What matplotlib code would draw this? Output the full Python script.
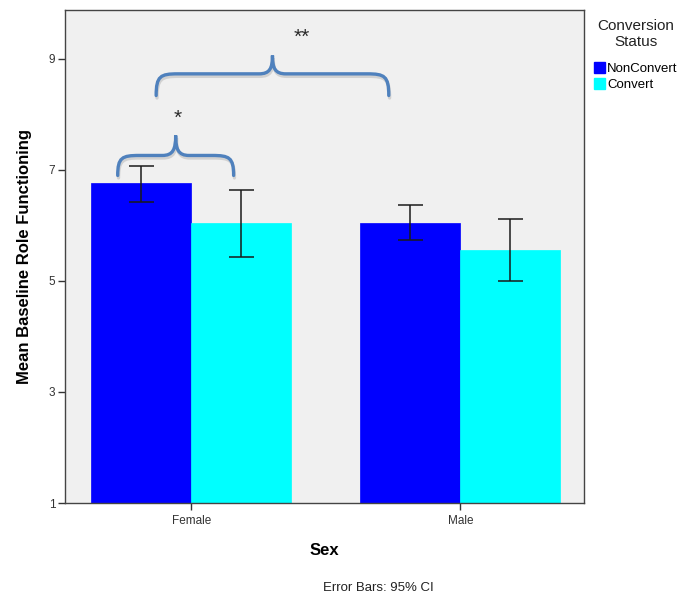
import matplotlib
matplotlib.use("Agg")
import matplotlib.pyplot as plt
import matplotlib.patheffects as pe
from matplotlib.path import Path
from matplotlib.patches import PathPatch, Patch
import numpy as np

# ---- data ----
sexes = ["Female", "Male"]
groups = ["NonConvert", "Convert"]
colors = ["#0000FF", "#00FFFF"]
means = {"NonConvert": [6.76, 6.05], "Convert": [6.04, 5.56]}
ci_hi = {"NonConvert": [7.07, 6.36], "Convert": [6.63, 6.11]}
ci_lo = {"NonConvert": [6.42, 5.73], "Convert": [5.44, 5.00]}
yticks = [1, 3, 5, 7, 9]

# significance braces: (x0, x1, y_end, y_flat, y_tip, label, label_x, label_y)
braces = [
    (-0.274, 0.157, 6.90, 7.26, 7.62, "*", -0.05, 7.93),
    (-0.131, 0.734, 8.34, 8.73, 9.06, "**", 0.41, 9.38),
]

plt.rcParams["font.family"] = ["Liberation Sans", "DejaVu Sans"]
BRACE_C = "#4F81BD"
W = 0.372


def brace_path(x0, x1, ye, yf, yt, rc=0.08, rm=0.05):
    xc = (x0 + x1) / 2
    v = [(x0, ye),
         (x0, yf - (yf - ye) * 0.1), (x0 + rc * 0.2, yf), (x0 + rc, yf),
         (xc - rm, yf),
         (xc - rm * 0.2, yf), (xc, yf + (yt - yf) * 0.3), (xc, yt),
         (xc, yf + (yt - yf) * 0.3), (xc + rm * 0.2, yf), (xc + rm, yf),
         (x1 - rc, yf),
         (x1 - rc * 0.2, yf), (x1, yf - (yf - ye) * 0.1), (x1, ye)]
    c = [Path.MOVETO, Path.CURVE4, Path.CURVE4, Path.CURVE4, Path.LINETO,
         Path.CURVE4, Path.CURVE4, Path.CURVE4, Path.CURVE4, Path.CURVE4, Path.CURVE4,
         Path.LINETO, Path.CURVE4, Path.CURVE4, Path.CURVE4]
    return Path(v, c)


fig = plt.figure(figsize=(6.89, 6.02), dpi=100)
ax = fig.add_axes([65 / 689, 1 - 503 / 602, (584 - 65) / 689, (503 - 10) / 602])
ax.set_facecolor("#F0F0F0")

x = np.arange(len(sexes))
for i, g in enumerate(groups):
    xs = x - W / 2 + i * W
    m = np.array(means[g])
    err = [m - np.array(ci_lo[g]), np.array(ci_hi[g]) - m]
    ax.bar(xs, m - 1, W, bottom=1, color=colors[i], edgecolor=colors[i], lw=0.5, zorder=2)
    ax.errorbar(xs, m, yerr=err, fmt="none", ecolor="#1a1a1a", elinewidth=1.1,
                capsize=9, capthick=1.1, zorder=3)

for x0, x1, ye, yf, yt, lab, lx, ly in braces:
    p = PathPatch(brace_path(x0, x1, ye, yf, yt), fill=False, ec=BRACE_C, lw=2.4,
                  capstyle="round", zorder=4,
                  path_effects=[pe.SimpleLineShadow(offset=(0.6, -1.8), shadow_color="#999999", alpha=0.35),
                                pe.Normal()])
    ax.add_patch(p)
    ax.text(lx, ly, lab, ha="center", va="center", fontsize=15, color="#2a2a2a")

ax.set_xlim(-0.47, 1.46)
ax.set_ylim(1, 9.88)
ax.set_yticks(yticks)
ax.set_xticks(x)
ax.set_xticklabels(sexes)
ax.tick_params(axis="both", labelsize=8.5, colors="#333333", length=5, width=1, direction="out")
ax.tick_params(axis="y", pad=2)
for s in ax.spines.values():
    s.set_color("#444444")
    s.set_linewidth(1)
ax.set_xlabel("Sex", fontsize=12, fontweight="bold", labelpad=12)
ax.set_ylabel("Mean Baseline Role Functioning", fontsize=12, fontweight="bold", labelpad=12)

handles = [Patch(color=c, label=g) for c, g in zip(colors, groups)]
leg = fig.legend(handles=handles, title="Conversion\nStatus", loc="upper left",
                 bbox_to_anchor=(594 / 689, 1 - 19 / 602), frameon=False, fontsize=9.5,
                 title_fontsize=11, handlelength=0.8, handleheight=0.9, handletextpad=0.2,
                 labelspacing=0.25, borderpad=0, borderaxespad=0)
leg.get_title().set_multialignment("center")
leg.get_title().set_color("#222222")
leg._legend_box.sep = 9

fig.text(378 / 689, 1 - 588 / 602, "Error Bars: 95% CI", ha="center", va="center",
         fontsize=9.5, color="#222222")

fig.savefig("out.png", dpi=100)
